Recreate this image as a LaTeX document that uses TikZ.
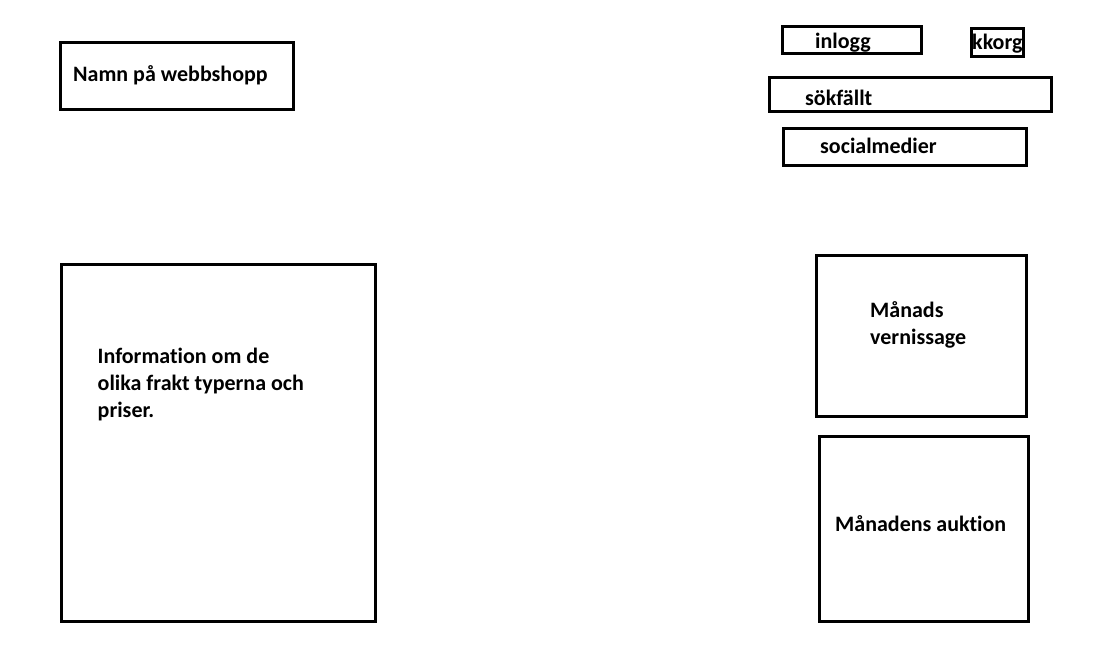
\documentclass[tikz,border=0pt]{standalone}
\usepackage{fontspec}
\setmainfont{Carlito}[Ligatures=NoCommon]
\usepackage{tikz}
\usetikzlibrary{positioning}
\tikzset{
  ruta/.style={draw=black,line width=3pt,rectangle,inner sep=0pt},
  etikett/.style={inner sep=0pt,anchor=base west,align=left,
    font=\bfseries\fontsize{22}{27}\selectfont}
}

\begin{document}
\begin{tikzpicture}[x=1pt,y=-1pt]
    \useasboundingbox (0,0) rectangle (1116,666);
    % Rubrik
    \node[ruta,minimum width=233pt,minimum height=67pt] (namn) at (177,76.5) {};
    \node[etikett] (namntext) at (73,82) {Namn på webbshopp};
    % Meny uppe till höger
    \node[ruta,minimum width=138.5pt,minimum height=27.5pt] (inlogg) at (851.75,40.25) {};
    \node[ruta,minimum width=52pt,minimum height=28pt] (kkorg) at (997.5,43) {};
    \node[ruta,minimum width=282pt,minimum height=34pt] (sok) at (910,95) {};
    \node[ruta,minimum width=243pt,minimum height=36pt] (social) at (904.5,147) {};
    \fill[white] (842,160) rectangle (861.5,164);
    \node[etikett] (inloggtext) at (815,48.5) {inlogg};
    \node[etikett] (kkorgtext) at (972,50) {kkorg};
    \node[etikett] (soktext) at (805,105.5) {sökfällt};
    \node[etikett] (socialtext) at (820,153.5) {socialmedier};
    % Information (baslinjen gäller sista raden)
    \node[ruta,minimum width=314pt,minimum height=356.5pt] (info) at (218.5,442.75) {};
    \node[etikett] (infotext) at (97.5,417) {Information om de\\olika frakt typerna och\\priser.};
    % Månadens utbud
    \node[ruta,minimum width=209.5pt,minimum height=160.5pt] (vernissage) at (921.25,335.75) {};
    \node[etikett] (vernissagetext) at (870,344) {Månads\\vernissage};
    \node[ruta,minimum width=209.5pt,minimum height=185pt] (auktion) at (923.75,529) {};
    \node[etikett] (auktiontext) at (835,531.5) {Månadens auktion};
\end{tikzpicture}
\end{document}
